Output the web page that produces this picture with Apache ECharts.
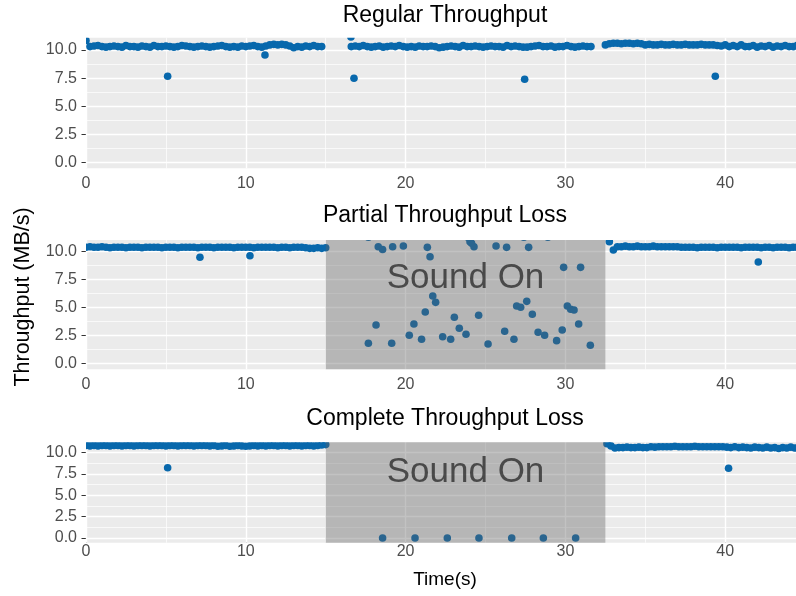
<!DOCTYPE html>
<html><head><meta charset="utf-8">
<script src="https://cdn.jsdelivr.net/npm/echarts@6/dist/echarts.min.js"></script>
<style>html,body{margin:0;padding:0;background:#fff}#c{width:796px;height:596px}</style>
</head><body><div id="c"></div>
<script>
// ---------- DATA ----------
const panelTitles = ['Regular Throughput', 'Partial Throughput Loss', 'Complete Throughput Loss'];
const xTicks = [0, 10, 20, 30, 40];
const yTicks = [0, 2.5, 5, 7.5, 10];
const soundOnStart = 15, soundOnEnd = 32.5;
const soundOnLabel = 'Sound On';
const samplePeriod = 0.25; // seconds between consecutive throughput samples

// Regular throughput: continuous sample runs (start time + measured values)
const regularRunAStart = 0;
const regularRunA = [10.85,10.3,10.35,10.4,10.3,10.25,10.3,10.35,10.3,10.25,
  10.4,10.3,10.3,10.25,10.35,10.3,10.25,10.4,10.3,10.3,
  10.35,10.3,10.25,10.3,10.4,10.35,10.3,10.25,10.3,10.35,
  10.3,10.25,10.3,10.35,10.4,10.3,10.25,10.3,10.25,10.35,
  10.3,10.35,10.4,10.3,10.25,10.35,10.45,10.5,10.45,10.5,
  10.45,10.35,10.2,10.3,10.25,10.35,10.3,10.4,10.3,10.3];
const regularRunBStart = 16.6;
const regularRunB = [10.3,10.35,10.3,10.4,10.3,10.25,10.3,10.35,10.25,10.3,
  10.35,10.3,10.4,10.3,10.25,10.3,10.25,10.35,10.3,10.3,
  10.35,10.3,10.2,10.25,10.3,10.35,10.3,10.25,10.4,10.3,
  10.3,10.35,10.3,10.25,10.3,10.35,10.3,10.3,10.25,10.4,
  10.3,10.35,10.3,10.25,10.25,10.3,10.35,10.4,10.3,10.3,
  10.35,10.25,10.3,10.3,10.4,10.3,10.25,10.3,10.35,10.3,
  10.3];
const regularRunCStart = 32.5;
const regularRunC = [10.45,10.55,10.6,10.6,10.55,10.6,10.6,10.55,10.6,10.55,
  10.45,10.5,10.45,10.45,10.5,10.45,10.45,10.5,10.45,10.45,
  10.5,10.45,10.45,10.45,10.5,10.45,10.45,10.45,10.4,10.35,
  10.45,10.3,10.4,10.3,10.45,10.3,10.3,10.4,10.25,10.35,
  10.3,10.4,10.25,10.35,10.3,10.4,10.3,10.3,10.4];
const regularSingles = [[5.11,7.67],[11.2,9.56],[16.58,11.15],[16.77,7.49],[27.45,7.4],[39.38,7.67]];

// Partial throughput loss
const partialRunAStart = 0;
const partialRunA = [10.4,10.45,10.4,10.4,10.45,10.4,10.35,10.4,10.4,10.4,
  10.35,10.4,10.4,10.4,10.35,10.4,10.4,10.4,10.4,10.35,
  10.4,10.4,10.4,10.35,10.4,10.4,10.4,10.4,10.35,10.4,
  10.4,10.4,10.35,10.4,10.4,10.4,10.4,10.35,10.4,10.4,
  10.4,10.4,10.35,10.4,10.4,10.4,10.4,10.4,10.35,10.4,
  10.4,10.35,10.4,10.4,10.4,10.35,10.3,10.3,10.35,10.3,
  10.35];
const partialRunCStart = 32.75;
const partialRunC = [10.9,10.15,10.45,10.45,10.5,10.45,10.45,10.5,10.45,10.45,
  10.45,10.5,10.45,10.45,10.45,10.45,10.45,10.45,10.4,10.4,
  10.4,10.4,10.35,10.4,10.4,10.4,10.4,10.35,10.4,10.4,
  10.4,10.4,10.4,10.35,10.4,10.4,10.4,10.4,10.35,10.4,
  10.4,10.35,10.4,10.4,10.4,10.35,10.4,10.4];
const partialSingles = [[7.13,9.5],[10.26,9.64],[42.07,9.08],
  [17.67,11.3],[17.67,1.79],[18.15,3.43],[18.29,10.45],[18.56,10.2],[19.13,1.79],[19.19,10.45],
  [19.86,10.51],[20.23,2.51],[20.52,3.52],[21.0,2.15],[21.23,4.6],[21.36,10.39],[21.53,9.55],
  [21.7,6.03],[21.88,5.46],[22.32,2.38],[22.82,2.15],[23.05,4.12],[23.36,3.14],[23.78,2.6],
  [23.9,11.3],[24.03,10.9],[24.13,10.75],[24.28,10.45],[24.57,4.3],[25.16,1.73],[25.66,10.51],
  [26.2,2.87],[26.32,10.39],[26.78,2.15],[26.95,5.13],[27.2,5.02],[27.4,11.3],[27.58,5.55],
  [27.7,10.39],[27.93,4.39],[28.29,2.78],[28.7,2.51],[28.9,11.3],[29.45,2.03],[29.8,2.98],
  [29.89,8.6],[30.12,5.13],[30.33,4.84],[30.54,4.78],[30.83,3.52],[30.95,8.6],[31.56,1.61]];

// Complete throughput loss
const completeRunAStart = 0;
const completeRunA = [10.85,10.8,10.85,10.8,10.85,10.85,10.8,10.85,10.85,10.8,
  10.85,10.85,10.8,10.85,10.85,10.85,10.8,10.85,10.85,10.85,
  10.8,10.85,10.85,10.8,10.85,10.85,10.85,10.8,10.85,10.85,
  10.85,10.8,10.85,10.75,10.8,10.85,10.75,10.8,10.85,10.8,
  10.75,10.8,10.85,10.8,10.85,10.8,10.85,10.85,10.8,10.85,
  10.85,10.8,10.85,10.85,10.8,10.85,10.85,10.8,10.85,10.9,
  10.95];
const completeRunCStart = 32.6;
const completeRunC = [11.05,10.8,10.55,10.6,10.6,10.65,10.6,10.6,10.65,10.6,
  10.6,10.7,10.65,10.7,10.7,10.7,10.7,10.75,10.7,10.7,
  10.7,10.7,10.75,10.7,10.7,10.7,10.7,10.7,10.7,10.7,
  10.65,10.6,10.7,10.6,10.65,10.6,10.55,10.65,10.6,10.55,
  10.65,10.55,10.6,10.5,10.6,10.55,10.65,10.55];
const completeSingles = [[5.11,8.24],[40.21,8.17],
  [18.56,0],[20.59,0],[22.61,0],[24.59,0],[26.64,0],[28.62,0],[30.64,0]];

// ---------- BUILD ----------
function runToPoints(start, vals) { return vals.map((v, i) => [start + i * samplePeriod, v]); }
const panelData = [
  runToPoints(regularRunAStart, regularRunA).concat(runToPoints(regularRunBStart, regularRunB), runToPoints(regularRunCStart, regularRunC), regularSingles),
  runToPoints(partialRunAStart, partialRunA).concat(runToPoints(partialRunCStart, partialRunC), partialSingles),
  runToPoints(completeRunAStart, completeRunA).concat(runToPoints(completeRunCStart, completeRunC), completeSingles)
];
const hasSound = [false, true, true];

const FONT = '"Liberation Sans", Arial, Helvetica, sans-serif';
const grids = [
  { left: 86, right: 0, top: 37.7, height: 130.6 },
  { left: 86, right: 0, top: 240, height: 129.3 },
  { left: 86, right: 0, top: 442.3, height: 100.4 }
];
const yRanges = [[-0.5, 11.09], [-0.54, 11.05], [-0.55, 11.22]];
const xLabelMargin = [7, 7, 1];
const xMax = 44.43;
const POINT = '#0868AC';

const xAxes = [], yAxes = [], series = [];
grids.forEach((g, i) => {
  g.show = true; g.backgroundColor = '#EBEBEB'; g.borderWidth = 0; g.containLabel = false;
  xAxes.push({ gridIndex: i, type: 'value', min: 0, max: xMax,
    axisLine: { show: false },
    axisTick: { show: true, length: 4.5, lineStyle: { color: '#333', width: 1 }, customValues: xTicks },
    axisLabel: { customValues: xTicks, color: '#4D4D4D', fontSize: 16, margin: xLabelMargin[i], fontFamily: FONT },
    splitLine: { show: false } });
  yAxes.push({ gridIndex: i, type: 'value', min: yRanges[i][0], max: yRanges[i][1],
    axisLine: { show: false },
    axisTick: { show: true, length: 4.5, lineStyle: { color: '#333', width: 1 }, customValues: yTicks },
    axisLabel: { customValues: yTicks, color: '#4D4D4D', fontSize: 16, margin: 9, fontFamily: FONT,
      formatter: v => Number(v).toFixed(1) },
    splitLine: { show: false } });
  const major = { color: '#FFFFFF', width: 1.4, type: 'solid' };
  const minor = { color: '#FFFFFF', width: 0.7, type: 'solid' };
  const lines = [];
  [5, 15, 25, 35].forEach(v => lines.push({ xAxis: v, lineStyle: minor }));
  [1.25, 3.75, 6.25, 8.75].forEach(v => lines.push({ yAxis: v, lineStyle: minor }));
  xTicks.forEach(v => lines.push({ xAxis: v, lineStyle: major }));
  yTicks.forEach(v => lines.push({ yAxis: v, lineStyle: major }));
  series.push({ type: 'line', xAxisIndex: i, yAxisIndex: i, data: [], z: 1, silent: true,
    markLine: { z: 1, silent: true, symbol: ['none', 'none'], label: { show: false }, animation: false,
      emphasis: { disabled: true }, data: lines } });
  series.push({ type: 'custom', xAxisIndex: i, yAxisIndex: i, z: 3, clip: true, silent: true,
    data: panelData[i], encode: { x: 0, y: 1 },
    renderItem: (params, api) => {
      const p = api.coord([api.value(0), api.value(1)]);
      return { type: 'circle', shape: { cx: p[0], cy: p[1], r: 3.8 }, style: { fill: POINT } };
    } });
  if (hasSound[i]) {
    series.push({ type: 'line', xAxisIndex: i, yAxisIndex: i, data: [], z: 10, silent: true,
      markArea: { z: 10, silent: true, animation: false, itemStyle: { color: 'rgba(98,98,98,0.39)' },
        label: { show: false },
        data: [[{ xAxis: soundOnStart, yAxis: yRanges[i][0] }, { xAxis: soundOnEnd, yAxis: yRanges[i][1] }]] } });
    series.push({ type: 'scatter', xAxisIndex: i, yAxisIndex: i, z: 11, silent: true, symbolSize: 0,
      data: [[(soundOnStart + soundOnEnd) / 2, 7.65]],
      label: { show: true, position: 'inside', formatter: soundOnLabel, fontSize: 35,
        color: '#2E2E2E', fontFamily: FONT } });
  }
});

const titleY = [15.5, 216, 418.5];
const graphic = panelTitles.map((t, i) => ({ type: 'text', x: 445, y: titleY[i], silent: true,
  style: { text: t, font: '23px ' + FONT, fill: '#000', align: 'center', verticalAlign: 'middle' } }));
graphic.push({ type: 'text', x: 445, y: 580, silent: true,
  style: { text: 'Time(s)', font: '19px ' + FONT, fill: '#000', align: 'center', verticalAlign: 'middle' } });
graphic.push({ type: 'text', x: 23, y: 297, rotation: Math.PI / 2, silent: true,
  style: { text: 'Throughput (MB/s)', font: '21.5px ' + FONT, fill: '#000', align: 'center', verticalAlign: 'middle' } });

const chart = echarts.init(document.getElementById('c'), null, { renderer: 'canvas' });
chart.setOption({ animation: false, backgroundColor: '#FFFFFF', grid: grids, xAxis: xAxes, yAxis: yAxes,
  series: series, graphic: graphic });
</script></body></html>
